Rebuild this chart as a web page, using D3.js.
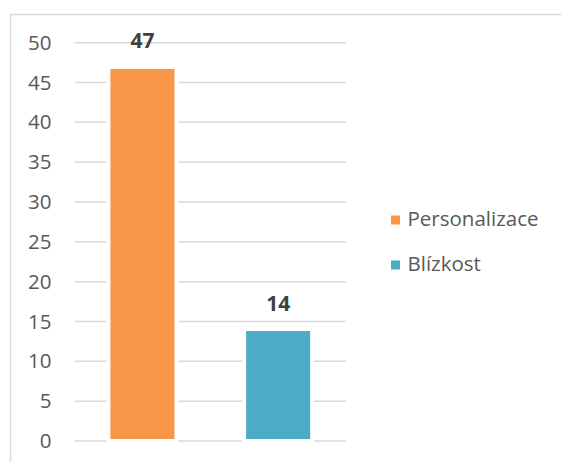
<!DOCTYPE html>
<html><head><meta charset="utf-8">
<script src="https://cdn.jsdelivr.net/npm/d3@7"></script>
<style>body{margin:0;background:#fff}svg{display:block;font-family:"Open Sans",sans-serif}</style>
</head><body><svg id="c" width="561" height="462"></svg>
<script>
const categories = ["Personalizace", "Blízkost"];
const values = [46.7, 13.8];
const labels = ["47", "14"];
const colors = ["#F79646", "#4BACC6"];
const yTicks = [0, 5, 10, 15, 20, 25, 30, 35, 40, 45, 50];

const svg = d3.select("#c");
// chart border
svg.append("path").attr("d", "M10.5,462 V14.5 H561").attr("fill", "none").attr("stroke", "#d9d9d9").attr("stroke-width", 1.5);

const x = d3.scaleBand().domain(categories).range([74.6, 346]).paddingInner(0.528).paddingOuter(0.264);
const y = d3.scaleLinear().domain([0, 50]).range([441, 42.7]);

const g = svg.append("g");
const yAxis = d3.axisLeft(y).tickValues(yTicks).tickSize(0).tickPadding(0);
const ax = g.append("g").attr("transform", "translate(51.5,0)").call(yAxis);
ax.select(".domain").remove();
ax.selectAll("text").attr("fill", "#595959").attr("font-size", 20.5).attr("font-family", "Open Sans");

g.append("g").selectAll("line").data(yTicks).join("line")
  .attr("x1", 74.6).attr("x2", 346).attr("y1", d => y(d)).attr("y2", d => y(d))
  .attr("stroke", "#d9d9d9").attr("stroke-width", 1.5);

g.append("g").selectAll("rect").data(values).join("rect")
  .attr("x", (d, i) => x(categories[i])).attr("width", x.bandwidth())
  .attr("y", d => y(d)).attr("height", d => y(0) - 2 - y(d))
  .attr("fill", (d, i) => colors[i]).attr("stroke", "#fff").attr("stroke-width", 8)
  .style("paint-order", "stroke");

g.append("g").selectAll("text").data(values).join("text")
  .attr("x", (d, i) => x(categories[i]) + x.bandwidth() / 2)
  .attr("y", d => y(d) - 20.5)
  .attr("text-anchor", "middle").attr("font-size", 21).attr("font-weight", "bold").attr("fill", "#404040")
  .text((d, i) => labels[i]);

const leg = svg.append("g").selectAll("g").data(categories).join("g")
  .attr("transform", (d, i) => `translate(391,${215.5 + i * 45})`);
leg.append("rect").attr("width", 9).attr("height", 9).attr("fill", (d, i) => colors[i]);
leg.append("text").attr("x", 16.5).attr("y", 10.5).attr("font-size", 20.5).attr("fill", "#595959").text(d => d);
</script></body></html>
